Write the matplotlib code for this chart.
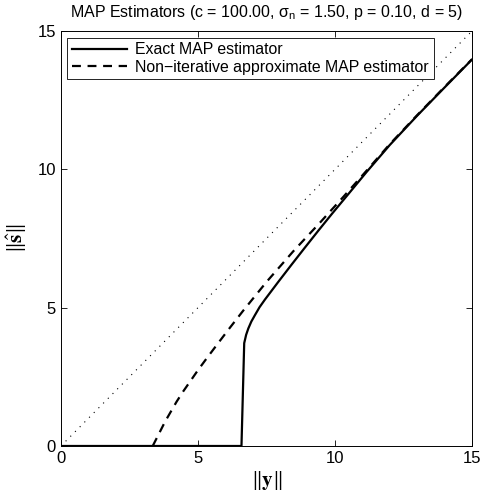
import numpy as np
import matplotlib
matplotlib.use("Agg")
import matplotlib.pyplot as plt

# ── DATA ──────────────────────────────────────────────────────────────────────
exact_x = [0.0, 6.59, 6.69, 6.76, 6.84, 6.95, 7.08, 7.25, 7.45, 7.93, 8.42,
           8.91, 9.39, 9.88, 10.50, 11.15, 12.00, 13.00, 14.00, 15.00]
exact_y = [0.0, 0.0, 3.72, 4.02, 4.25, 4.50, 4.73, 5.02, 5.30, 5.93, 6.56,
           7.18, 7.78, 8.38, 9.12, 9.90, 10.88, 11.94, 12.96, 13.97]

approx_x = [3.35, 3.80, 4.22, 4.46, 5.00, 5.32, 5.80, 6.17, 6.65, 7.51, 8.48,
            9.45, 10.30, 11.00, 12.00, 13.00, 14.00, 15.00]
approx_y = [0.0, 0.88, 1.60, 1.97, 2.74, 3.17, 3.80, 4.28, 4.89, 5.94, 7.04,
            8.07, 9.00, 9.78, 10.91, 11.96, 12.98, 13.98]

ident = [0, 15]

legend_labels = ["Exact MAP estimator", "Non\u2212iterative approximate MAP estimator"]
ticks = [0, 5, 10, 15]

# ── STYLE ─────────────────────────────────────────────────────────────────────
plt.rcParams["font.family"] = ["Liberation Sans", "DejaVu Sans"]
plt.rcParams["mathtext.fontset"] = "custom"
plt.rcParams["mathtext.rm"] = "Liberation Sans"
plt.rcParams["mathtext.it"] = "Liberation Sans:italic"

fig = plt.figure(figsize=(4.8, 4.95), dpi=100)
ax = fig.add_axes([0.127, 0.099, 0.856, 0.838])

ax.plot(exact_x, exact_y, color="black", lw=1.6, label=legend_labels[0])
ax.plot(approx_x, approx_y, color="black", lw=1.6, dashes=(4, 3),
        label=legend_labels[1])
ax.plot(ident, ident, color="black", lw=0.8, linestyle=(0, (1, 5)))

ax.set_xlim(0, 15)
ax.set_ylim(0, 15)
ax.set_xticks(ticks)
ax.set_yticks(ticks)
ax.tick_params(direction="in", top=True, right=True, length=4, width=0.6,
               labelsize=12)
for s in ax.spines.values():
    s.set_linewidth(0.7)

ax.set_title("MAP Estimators (c = 100.00, \u03c3$_\\mathrm{n}$ = 1.50, p = 0.10, d = 5)",
             fontsize=11.5, pad=10)
ax.set_xlabel(r"$\|\mathbf{y}\|$", fontsize=15, math_fontfamily="stix", labelpad=2)
ax.set_ylabel(r"$\|\hat{\mathbf{s}}\|$", fontsize=15, math_fontfamily="stix", labelpad=6)

leg = ax.legend(loc="upper left", fontsize=11.4, fancybox=False, framealpha=1,
                edgecolor="black", handlelength=3.5, borderaxespad=0.4,
                labelspacing=0.15, borderpad=0.3, handletextpad=0.5)
leg.get_frame().set_linewidth(0.6)

plt.savefig("out.png", dpi=100)
